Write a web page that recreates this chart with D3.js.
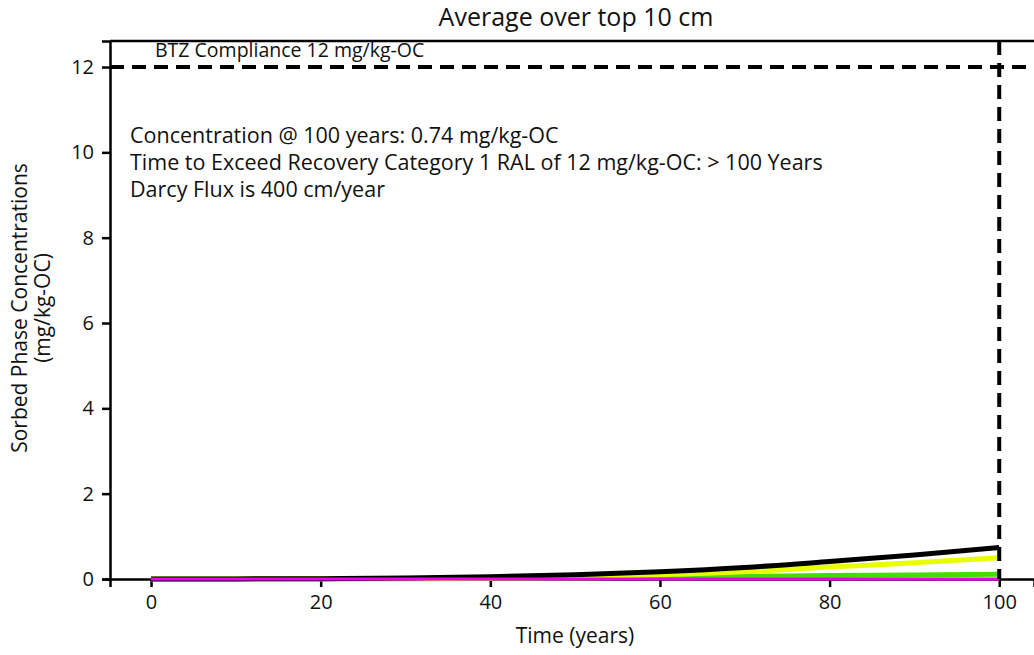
<!DOCTYPE html>
<meta charset="utf-8">
<script src="https://d3js.org/d3.v7.min.js"></script>
<style>
  body { margin: 0; background: #fff; }
  text { font-family: "Open Sans", "Noto Sans", sans-serif; fill: #111; }
</style>
<div id="my_dataviz"></div>
<script>

// time axis (years) and the concentration curves (mg/kg-OC)
var years   = [0, 10, 20, 30, 40, 50, 60, 70, 80, 90, 100];
var total   = [0, 0.002, 0.008, 0.025, 0.055, 0.10, 0.17, 0.27, 0.41, 0.56, 0.74];
var yellowS = [0, 0.001, 0.004, 0.012, 0.028, 0.055, 0.10, 0.17, 0.28, 0.38, 0.50];
var orangeS = [0, 0.0005, 0.002, 0.006, 0.015, 0.03, 0.05, 0.07, 0.095, 0.115, 0.13];
var greenS  = [0, 0.0005, 0.002, 0.005, 0.012, 0.025, 0.045, 0.06, 0.08, 0.095, 0.11];
var magentaS = [0, 0, 0, 0, 0, 0, 0, 0, 0.001, 0.001, 0.002];

var xTicks = [0, 20, 40, 60, 80, 100];
var yTicks = [0, 2, 4, 6, 8, 10, 12];
var ral = 12;
var horizon = 100;

var notes = ["Concentration @ 100 years: 0.74 mg/kg-OC",
             "Time to Exceed Recovery Category 1 RAL of 12 mg/kg-OC: > 100 Years",
             "Darcy Flux is 400 cm/year"];

var series = [
  {vals: orangeS, color: "#ff8c00", w: 2},
  {vals: greenS, color: "#44dd00", w: 5},
  {vals: yellowS, color: "#e8ff00", w: 5},
  {vals: total, color: "#000", w: 5},
  {vals: magentaS, color: "#ee00ee", w: 3}
];

var W = 1034, H = 655;
var mLeft = 110, mTop = 41, mBottom = 579;

var svg = d3.select("#my_dataviz")
  .append("svg")
  .attr("width", W)
  .attr("height", H);

// scales
var x = d3.scaleLinear().domain([-4.84, 104.1]).range([mLeft, W]);
var y = d3.scaleLinear().domain([0, 12.61]).range([mBottom, mTop]);

// title
svg.append("text")
  .attr("x", 576).attr("y", 26)
  .attr("text-anchor", "middle")
  .style("font-size", "25px")
  .text("Average over top 10 cm");

// top border line
svg.append("line")
  .attr("x1", mLeft).attr("x2", W)
  .attr("y1", mTop).attr("y2", mTop)
  .attr("stroke", "#000").attr("stroke-width", 2.5);

// x axis
var xAxis = svg.append("g")
  .attr("transform", "translate(0," + mBottom + ")")
  .call(d3.axisBottom(x).tickValues(xTicks).tickSizeOuter(0).tickSize(8).tickPadding(8));
xAxis.select(".domain").attr("stroke-width", 2.5);
xAxis.selectAll(".tick line").attr("stroke-width", 2.5);
xAxis.selectAll("text").style("font-size", "20px").style("font-family", "'Open Sans', sans-serif").attr("fill", "#111");

// y axis
var yAxis = svg.append("g")
  .attr("transform", "translate(" + mLeft + ",0)")
  .call(d3.axisLeft(y).tickValues(yTicks).tickSizeOuter(0).tickSize(8).tickPadding(8));
yAxis.select(".domain").attr("stroke-width", 2.5);
yAxis.selectAll(".tick line").attr("stroke-width", 2.5);
yAxis.selectAll("text").style("font-size", "20px").style("font-family", "'Open Sans', sans-serif").attr("fill", "#111");

// axis labels
svg.append("text")
  .attr("x", 575).attr("y", 643)
  .attr("text-anchor", "middle")
  .style("font-size", "21px")
  .text("Time (years)");

var yl = svg.append("text")
  .attr("transform", "translate(27,308) rotate(-90)")
  .attr("text-anchor", "middle")
  .style("font-size", "21px");
yl.append("tspan").attr("x", 0).attr("dy", 0).text("Sorbed Phase Concentrations");
yl.append("tspan").attr("x", 0).attr("dy", 23).text("(mg/kg-OC)");

// curves
var line = d3.line()
  .x(function(d, i) { return x(years[i]); })
  .y(function(d) { return y(d); })
  .curve(d3.curveMonotoneX);

series.forEach(function(s) {
  svg.append("path")
    .datum(s.vals)
    .attr("d", line)
    .attr("fill", "none")
    .attr("stroke", s.color)
    .attr("stroke-width", s.w);
});

// compliance line and horizon line
svg.append("line")
  .attr("x1", mLeft).attr("x2", W)
  .attr("y1", y(ral)).attr("y2", y(ral))
  .attr("stroke", "#000").attr("stroke-width", 4)
  .attr("stroke-dasharray", "14,8");

svg.append("line")
  .attr("x1", x(horizon)).attr("x2", x(horizon))
  .attr("y1", mTop).attr("y2", mBottom)
  .attr("stroke", "#000").attr("stroke-width", 4)
  .attr("stroke-dasharray", "14,8");

svg.append("text")
  .attr("x", 155).attr("y", 57)
  .style("font-size", "19.5px")
  .text("BTZ Compliance 12 mg/kg-OC");

// annotation block
svg.selectAll(".note")
  .data(notes)
  .enter()
  .append("text")
  .attr("class", "note")
  .attr("x", 130)
  .attr("y", function(d, i) { return 143 + i * 27; })
  .style("font-size", "21.5px")
  .text(function(d) { return d; });

</script>
